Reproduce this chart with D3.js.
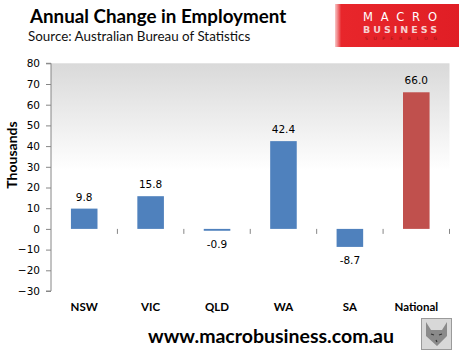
<!DOCTYPE html>
<html><head><meta charset="utf-8">
<script src="https://cdn.jsdelivr.net/npm/d3@7"></script>
<style>body{margin:0;background:#fff}svg{display:block}</style>
</head><body>
<script>
const categories = ["NSW","VIC","QLD","WA","SA","National"];
const values = [9.8, 15.8, -0.9, 42.4, -8.7, 66.0];
const barColors = ["#4F81BD","#4F81BD","#4F81BD","#4F81BD","#4F81BD","#C0504D"];
const yTicks = [80,70,60,50,40,30,20,10,0,-10,-20,-30];

const W = 461, H = 358;
const svg = d3.select("body").append("svg").attr("width", W).attr("height", H);
const defs = svg.append("defs");
const g1 = defs.append("linearGradient").attr("id","bg").attr("x1",0).attr("y1",0).attr("x2",0).attr("y2",1);
g1.append("stop").attr("offset","0%").attr("stop-color","#d9d9d9");
g1.append("stop").attr("offset","47%").attr("stop-color","#ffffff");
g1.append("stop").attr("offset","100%").attr("stop-color","#ffffff");
const g2 = defs.append("linearGradient").attr("id","logo").attr("x1",0).attr("y1",0).attr("x2",1).attr("y2",0);
g2.append("stop").attr("offset","0%").attr("stop-color","#f7c8c8");
g2.append("stop").attr("offset","5%").attr("stop-color","#e8262b");
g2.append("stop").attr("offset","100%").attr("stop-color","#e01e25");

const pLeft = 51, pRight = 449.5, pTop = 63.3, pBottom = 291;
const x = d3.scaleBand().domain(categories).range([pLeft, pRight]).padding(0);
const y = d3.scaleLinear().domain([-30, 80]).range([pBottom, pTop]);

// plot background
svg.append("rect").attr("x", pLeft).attr("y", y(80)).attr("width", pRight-pLeft).attr("height", y(-30)-y(80)).attr("fill","url(#bg)");

// y axis
const yAxis = d3.axisLeft(y).tickValues(yTicks).tickSize(5).tickPadding(6).tickFormat(d3.format("d"));
const ya = svg.append("g").attr("transform",`translate(${pLeft},0)`).call(yAxis);
ya.select(".domain").attr("stroke","#868686").attr("d",`M-5,${y(80)}H0V${y(-30)}H-5`);
ya.selectAll(".tick line").attr("stroke","#868686");
ya.selectAll(".tick text").attr("font-family","Verdana, 'DejaVu Sans', sans-serif").attr("font-size","10.5px").attr("fill","#000");

// category boundary ticks
svg.append("g").selectAll("line").data(categories).join("line")
  .attr("x1", d => x(d)+x.bandwidth()).attr("x2", d => x(d)+x.bandwidth())
  .attr("y1", y(0)).attr("y2", y(0)+5).attr("stroke","#868686");

// bars
const bw = x.bandwidth()*0.4;
svg.append("g").selectAll("rect").data(categories).join("rect")
  .attr("x", d => x(d)+x.bandwidth()/2-bw/2)
  .attr("width", bw)
  .attr("y", (d,i) => y(Math.max(0, values[i])))
  .attr("height", (d,i) => Math.abs(y(values[i])-y(0)))
  .attr("fill", (d,i) => barColors[i]);

// data labels
svg.append("g").selectAll("text").data(categories).join("text")
  .attr("x", d => x(d)+x.bandwidth()/2)
  .attr("y", (d,i) => values[i] >= 0 ? y(values[i]) - 8 : y(values[i]) + 17)
  .attr("text-anchor","middle")
  .attr("font-family","Verdana, 'DejaVu Sans', sans-serif").attr("font-size","10.5px")
  .text((d,i) => values[i].toFixed(1));

// category labels
svg.append("g").selectAll("text").data(categories).join("text")
  .attr("x", d => x(d)+x.bandwidth()/2)
  .attr("y", 311)
  .attr("text-anchor","middle")
  .attr("font-family","Lato, 'Open Sans', sans-serif").attr("font-weight","bold").attr("font-size","11.5px")
  .text(d => d);

// y title
svg.append("text").attr("transform","translate(17,155) rotate(-90)")
  .attr("text-anchor","middle").attr("font-family","Lato, sans-serif").attr("font-weight","bold").attr("font-size","14px")
  .text("Thousands");

// title
svg.append("text").attr("x",30).attr("y",23).attr("font-family","Lato, sans-serif").attr("font-weight","bold").attr("font-size","18.8px").text("Annual Change in Employment");
svg.append("text").attr("x",28).attr("y",41).attr("font-family","Lato, sans-serif").attr("font-size","13.4px").attr("fill","#111").text("Source:  Australian Bureau of Statistics");

// footer url
svg.append("text").attr("x",271).attr("y",343).attr("text-anchor","middle").attr("font-family","Lato, sans-serif").attr("font-weight","bold").attr("font-size","19.5px").text("www.macrobusiness.com.au");

// logo
svg.append("rect").attr("x",335).attr("y",4).attr("width",124).attr("height",43).attr("fill","url(#logo)");
svg.append("text").attr("x",363).attr("y",20.5).attr("font-family","'DejaVu Sans', sans-serif").attr("font-size","11.5px").attr("fill","#fff")
  .attr("textLength",74).attr("lengthAdjust","spacing").text("MACRO");
svg.append("text").attr("x",363).attr("y",32.5).attr("font-family","'DejaVu Sans', sans-serif").attr("font-weight","bold").attr("font-size","9.5px").attr("fill","#f6d0d0")
  .attr("textLength",74).attr("lengthAdjust","spacing").text("BUSINESS");
svg.append("text").attr("x",365).attr("y",40).attr("font-family","'DejaVu Sans', sans-serif").attr("font-size","4.5px").attr("fill","#9a1515")
  .attr("textLength",72).attr("lengthAdjust","spacing").text("SUPERBLOG");

// wolf image placeholder
svg.append("rect").attr("x",421.5).attr("y",318.5).attr("width",30).attr("height",31).attr("fill","#d8d8d8").attr("stroke","#9a9a9a");
svg.append("path").attr("d","M426,322 L431,330 L442,330 L447,322 L447,336 L437,346 L426,336 Z").attr("fill","#8a8a8a");
svg.append("path").attr("d","M431,334 L434,335 M439,335 L442,334 M436,340 L437,342").attr("stroke","#333").attr("stroke-width",1.2);
</script>
</body></html>
